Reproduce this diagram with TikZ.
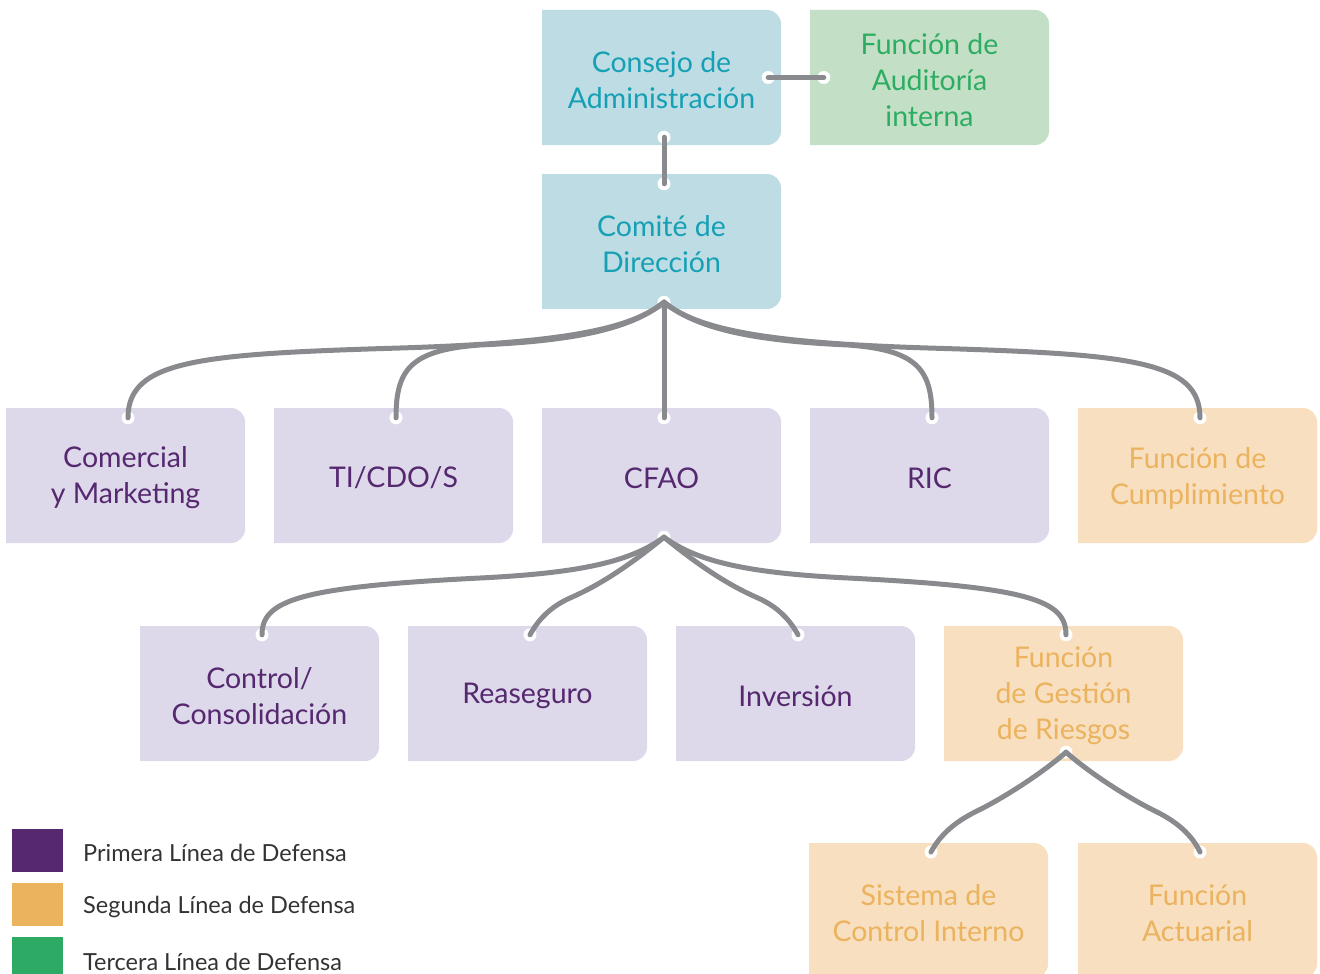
\documentclass[tikz,border=0pt]{standalone}
\usepackage{fontspec}
\setmainfont{Lato}
\definecolor{bfill}{HTML}{BEDCE3}
\definecolor{btext}{HTML}{16A0B5}
\definecolor{gfill}{HTML}{C3E0C6}
\definecolor{gtext}{HTML}{2EAD62}
\definecolor{pfill}{HTML}{DDD8EA}
\definecolor{ptext}{HTML}{55286F}
\definecolor{ofill}{HTML}{F8DFC0}
\definecolor{otext}{HTML}{EBB35E}
\definecolor{gline}{HTML}{898A8E}
\definecolor{lgreen}{HTML}{2DAA63}
\definecolor{ltext}{HTML}{333333}
\tikzset{
  conn/.style={draw=gline, line width=5pt, line cap=round},
  endpt/.style={fill=white, draw=none},
  boxframe/.style={minimum width=239pt, minimum height=135pt, inner sep=0pt},
  boxtext/.style={align=center, inner sep=0pt, font=\fontsize{28.5}{36}\selectfont},
  legtext/.style={anchor=west, inner sep=0pt, text=ltext, font=\fontsize{23.5}{27}\selectfont},
}
% name, left x, top y, fill, text colour, text
\newcommand\obox[6]{%
  \fill[#4] (#2,-#3) -- ({#2+225},-#3) arc[start angle=90,end angle=0,radius=14pt]
    -- ({#2+239},{-#3-121}) arc[start angle=0,end angle=-90,radius=14pt]
    -- (#2,{-#3-135}) -- cycle;
  \node[boxframe] (#1) at ({#2+119.5},{-#3-67.5}) {};
  \node[boxtext, text=#5] (#1txt) at ([yshift=-2.5pt]#1.center) {#6};}
\begin{document}
\begin{tikzpicture}[x=1pt,y=1pt]
\useasboundingbox (0,0) rectangle (1320,-974);
% boxes
\obox{cons}{542}{10}{bfill}{btext}{Consejo de\\Administración}
\obox{aud}{810}{10}{gfill}{gtext}{Función de\\Auditoría\\interna}
\obox{comi}{542}{174}{bfill}{btext}{Comité de\\Dirección}
\obox{come}{6}{408}{pfill}{ptext}{Comercial\\y Marketing}
\obox{ti}{274}{408}{pfill}{ptext}{TI/CDO/S}
\obox{cfao}{542}{408}{pfill}{ptext}{CFAO}
\obox{ric}{810}{408}{pfill}{ptext}{RIC}
\obox{cump}{1078}{408}{ofill}{otext}{Función de\\Cumplimiento}
\obox{ctrl}{140}{626}{pfill}{ptext}{Control/\\Consolidación}
\obox{rea}{408}{626}{pfill}{ptext}{Reaseguro}
\obox{inv}{676}{626}{pfill}{ptext}{Inversión}
\obox{ries}{944}{626}{ofill}{otext}{Función\\de Gestión\\de Riesgos}
\obox{sci}{809}{843}{ofill}{otext}{Sistema de\\Control Interno}
\obox{act}{1078}{843}{ofill}{otext}{Función\\Actuarial}
% connector end points
\coordinate (consR) at ([xshift=-13pt]cons.east);
\coordinate (audL) at ([xshift=14pt]aud.west);
\coordinate (consB) at ([xshift=2.5pt,yshift=8pt]cons.south);
\coordinate (comiT) at ([xshift=2.5pt,yshift=-10pt]comi.north);
\coordinate (comiB) at ([xshift=2.5pt,yshift=7pt]comi.south);
\foreach \n in {come,ti,cfao,ric,cump}{\coordinate (\n T) at ([xshift=2.5pt,yshift=-10pt]\n.north);}
\coordinate (cfaoB) at ([xshift=2.5pt,yshift=6pt]cfao.south);
\foreach \n in {ctrl,rea,inv,ries}{\coordinate (\n T) at ([xshift=2.5pt,yshift=-9pt]\n.north);}
\coordinate (riesB) at ([xshift=2.5pt,yshift=9pt]ries.south);
\coordinate (sciT) at (931,-852);
\coordinate (actT) at (1200,-852);
% white end dots
\foreach \p in {consR,audL,consB,comiT,comiB,comeT,tiT,cfaoT,ricT,cumpT,cfaoB,ctrlT,reaT,invT,riesT,riesB,sciT,actT}{
  \fill[endpt] (\p) circle[radius=6.5pt];}
% connectors
\draw[conn] (consR) -- (audL);
\draw[conn] (consB) -- (comiT);
\draw[conn] (comiB) .. controls (630,-330) and (560,-343) .. (400,-348) .. controls (200,-354) and (128,-360) .. (comeT);
\draw[conn] (comiB) .. controls (630,-330) and (570,-341) .. (480,-345) .. controls (410,-350) and (396,-370) .. (tiT);
\draw[conn] (comiB) -- (cfaoT);
\draw[conn] (comiB) .. controls (698,-330) and (758,-341) .. (848,-345) .. controls (918,-350) and (932,-370) .. (ricT);
\draw[conn] (comiB) .. controls (698,-330) and (768,-343) .. (928,-348) .. controls (1128,-354) and (1200,-360) .. (cumpT);
\draw[conn] (cfaoB) .. controls (630,-562) and (580,-573) .. (480,-578) .. controls (300,-587) and (262,-600) .. (ctrlT);
\draw[conn] (cfaoB) .. controls (630,-565) and (600,-585) .. (570,-598) .. controls (550,-607) and (538,-620) .. (reaT);
\draw[conn] (cfaoB) .. controls (698,-565) and (728,-585) .. (758,-598) .. controls (778,-607) and (790,-620) .. (invT);
\draw[conn] (cfaoB) .. controls (698,-562) and (748,-573) .. (848,-578) .. controls (1028,-587) and (1066,-600) .. (riesT);
\draw[conn] (riesB) .. controls (1040,-775) and (1000,-800) .. (975,-812) .. controls (955,-822) and (940,-835) .. (sciT);
\draw[conn] (riesB) .. controls (1092,-775) and (1132,-800) .. (1157,-812) .. controls (1177,-822) and (1192,-835) .. (actT);
% legend
\fill[ptext] (12,-829) rectangle (63,-872);
\fill[otext] (12,-883) rectangle (63,-926);
\fill[lgreen] (12,-937) rectangle (63,-980);
\node[legtext] (l1) at (83,-853) {Primera Línea de Defensa};
\node[legtext] (l2) at (83,-907) {Segunda Línea de Defensa};
\node[legtext] (l3) at (83,-962) {Tercera Línea de Defensa};
\end{tikzpicture}
\end{document}
